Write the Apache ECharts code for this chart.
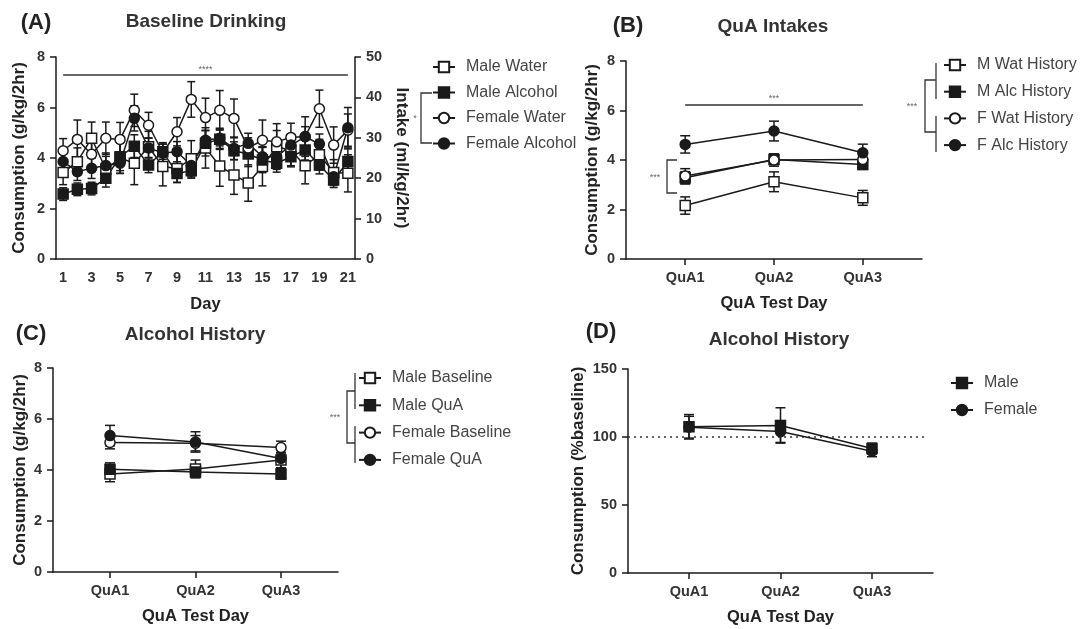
<!DOCTYPE html>
<html>
<head>
<meta charset="utf-8">
<script src="https://cdn.jsdelivr.net/npm/echarts@6/dist/echarts.min.js"></script>
<style>
html,body{margin:0;padding:0;background:#fff;}
#chart{width:1085px;height:629px;}
</style>
</head>
<body>
<div id="chart"></div>
<script>
// (A) baseline drinking, 21 days
var days = ['1','2','3','4','5','6','7','8','9','10','11','12','13','14','15','16','17','18','19','20','21'];
// water is read on the right axis (ml/kg/2hr), alcohol on the left (g/kg/2hr)
var maleWater      = [21.4,24.1,29.9,22.2,25.0,23.7,27.8,22.9,22.4,24.8,27.5,23.0,20.8,18.8,22.9,27.8,26.9,23.1,25.8,21.4,21.2];
var maleWaterErr   = [3.0,3.4,4.0,3.2,3.8,5.3,3.8,4.8,3.5,4.5,5.0,5.0,4.8,4.5,4.8,4.0,3.8,4.5,3.8,3.2,4.6];
var maleAlc        = [2.57,2.76,2.79,3.2,4.05,4.47,3.72,4.25,3.39,3.5,4.58,4.74,4.29,4.16,3.92,3.79,4.05,4.32,3.72,3.13,3.86];
var maleAlcErr     = [0.25,0.25,0.25,0.35,0.55,0.45,0.3,0.3,0.35,0.3,0.5,0.4,0.35,0.5,0.5,0.35,0.4,0.4,0.35,0.3,0.5];
var femaleWater    = [26.8,29.6,25.9,29.9,29.6,36.8,33.1,26.3,31.5,39.5,35.0,36.8,34.8,27.5,29.4,29.0,30.1,30.3,37.2,28.2,31.9];
var femaleWaterErr = [3.0,4.8,3.5,4.0,4.2,4.0,3.2,2.5,3.5,4.4,4.8,4.9,4.8,2.5,5.0,4.5,3.5,4.9,4.6,4.5,4.0];
var femaleAlc      = [3.86,3.46,3.59,3.7,3.79,5.57,4.4,4.2,4.25,3.7,4.7,4.78,4.38,4.58,4.05,4.05,4.51,4.84,4.55,3.26,5.2];
var femaleAlcErr   = [0.3,0.35,0.4,0.5,0.4,0.5,0.4,0.35,0.4,0.4,0.4,0.4,0.45,0.4,0.4,0.5,0.35,0.4,0.4,0.3,0.8];

// QuA test days (B, C, D)
var qDays = ['QuA1','QuA2','QuA3'];

// (B) QuA intakes
var mWatHist = [2.16,3.12,2.47], mWatHistErr = [0.35,0.4,0.3];
var mAlcHist = [3.28,4.02,3.82], mAlcHistErr = [0.25,0.2,0.2];
var fWatHist = [3.35,4.0,4.02],  fWatHistErr = [0.3,0.25,0.3];
var fAlcHist = [4.63,5.17,4.29], fAlcHistErr = [0.35,0.4,0.35];

// (C) alcohol history, baseline vs QuA
var maleBase = [3.84,4.04,4.39],  maleBaseErr = [0.3,0.35,0.3];
var maleQua  = [4.03,3.92,3.84],  maleQuaErr  = [0.25,0.2,0.2];
var femBase  = [5.08,5.05,4.88],  femBaseErr  = [0.25,0.3,0.25];
var femQua   = [5.35,5.1,4.45],   femQuaErr   = [0.4,0.4,0.4];

// (D) % of baseline
var malePct   = [107.5,108.5,91.5], malePctErr   = [9,13,4];
var femalePct = [107.2,104,89.5],   femalePctErr = [8,8,4];

var FONT = '"Liberation Sans", Arial, sans-serif';
var INK = '#1a1a1a';
var TICK_FS = 14.5, NAME_FS = 17, XNAME_FS = 16.5, LEG_FS = 16;

function pts(vals, cat){
  var out = [];
  for (var i = 0; i < vals.length; i++) out.push([cat ? i : i + 1, vals[i]]);
  return out;
}
function errPts(vals, errs, cat){
  var out = [];
  for (var i = 0; i < vals.length; i++) out.push([cat ? i : i + 1, vals[i], errs[i]]);
  return out;
}
function lineS(name, vals, cat, xi, yi, sym, open, size){
  return {
    name: name, type: 'line', xAxisIndex: xi, yAxisIndex: yi,
    data: pts(vals, cat), symbol: sym, symbolSize: size, showAllSymbol: true,
    z: 3,
    lineStyle: {color: INK, width: 1.5},
    itemStyle: {color: open ? '#fff' : INK, borderColor: INK, borderWidth: 1.5}
  };
}
function errS(vals, errs, cat, xi, yi, cap){
  return {
    type: 'custom', xAxisIndex: xi, yAxisIndex: yi, z: 2,
    data: errPts(vals, errs, cat),
    renderItem: function(params, api){
      var x = api.value(0), y = api.value(1), e = api.value(2);
      var hi = api.coord([x, y + e]), lo = api.coord([x, y - e]);
      var st = {stroke: INK, lineWidth: 1.5};
      return {type: 'group', children: [
        {type: 'line', shape: {x1: hi[0], y1: hi[1], x2: lo[0], y2: lo[1]}, style: st},
        {type: 'line', shape: {x1: hi[0] - cap, y1: hi[1], x2: hi[0] + cap, y2: hi[1]}, style: st},
        {type: 'line', shape: {x1: lo[0] - cap, y1: lo[1], x2: lo[0] + cap, y2: lo[1]}, style: st}
      ]};
    }
  };
}
function yAx(gi, max, step, name, gap, extra){
  var ax = {
    type: 'value', gridIndex: gi, min: 0, max: max, interval: step,
    name: name, nameLocation: 'middle', nameGap: gap,
    nameTextStyle: {fontFamily: FONT, fontSize: NAME_FS, fontWeight: 'bold', color: '#222'},
    splitLine: {show: false},
    axisLine: {show: true, lineStyle: {color: INK, width: 1.5}},
    axisTick: {show: true, length: 6, lineStyle: {color: INK, width: 1.5}},
    axisLabel: {fontFamily: FONT, fontSize: TICK_FS, fontWeight: 'bold', color: '#333', margin: 11}
  };
  for (var k in extra) ax[k] = extra[k];
  return ax;
}
function qAx(gi){
  return {
    type: 'value', gridIndex: gi, min: 1/3, max: 11/3,
    name: 'QuA Test Day', nameLocation: 'middle', nameGap: 36,
    nameTextStyle: {fontFamily: FONT, fontSize: XNAME_FS, fontWeight: 'bold', color: '#222'},
    splitLine: {show: false},
    axisLine: {show: true, onZero: false, lineStyle: {color: INK, width: 1.5}},
    axisTick: {show: true, length: 6, customValues: [1, 2, 3], lineStyle: {color: INK, width: 1.5}},
    axisLabel: {customValues: [1, 2, 3], margin: 11, fontFamily: FONT, fontSize: TICK_FS, fontWeight: 'bold', color: '#333',
      formatter: function(v){ return qDays[Math.round(v) - 1]; }}
  };
}
function legendAt(left, top, gap, names){
  return {
    orient: 'vertical', left: left, top: top, itemWidth: 22, itemHeight: 13, itemGap: gap,
    selectedMode: false, data: names,
    textStyle: {fontFamily: FONT, fontSize: LEG_FS, color: '#444', padding: [0, 0, 0, 6]}
  };
}
function txt(x, y, s, size, weight, align, color){
  return {type: 'text', x: x, y: y, style: {text: s, font: (weight || 'normal') + ' ' + size + 'px ' + FONT,
    fill: color || '#222', textAlign: align || 'center', textVerticalAlign: 'middle'}};
}
function poly(points){
  return {type: 'polyline', shape: {points: points}, style: {stroke: '#333', lineWidth: 1.3, fill: null}};
}

var chart = echarts.init(document.getElementById('chart'));
var option = {
  animation: false,
  backgroundColor: '#fff',
  grid: [
    {left: 56, top: 57, width: 299, height: 202},
    {left: 626, top: 61, width: 296, height: 198},
    {left: 53, top: 368, width: 285, height: 204},
    {left: 628, top: 369, width: 305, height: 204}
  ],
  xAxis: [
    {
      type: 'category', gridIndex: 0, data: days, boundaryGap: true,
      name: 'Day', nameLocation: 'middle', nameGap: 37,
      nameTextStyle: {fontFamily: FONT, fontSize: XNAME_FS, fontWeight: 'bold', color: '#222'},
      axisLine: {lineStyle: {color: INK, width: 1.5}},
      axisTick: {interval: 0, alignWithLabel: true, length: 8, lineStyle: {color: INK, width: 2}},
      axisLabel: {interval: 1, margin: 11, fontFamily: FONT, fontSize: TICK_FS, fontWeight: 'bold', color: '#333'}
    },
    qAx(1), qAx(2), qAx(3)
  ],
  yAxis: [
    yAx(0, 8, 2, 'Consumption (g/kg/2hr)', 28.5, {}),
    yAx(0, 50, 10, 'Intake (ml/kg/2hr)', 38.5, {position: 'right', nameRotate: -90}),
    yAx(1, 8, 2, 'Consumption (g/kg/2hr)', 25.5, {}),
    yAx(2, 8, 2, 'Consumption (g/kg/2hr)', 24.5, {}),
    yAx(3, 150, 50, 'Consumption (%baseline)', 41.5, {})
  ],
  legend: [
    legendAt(427, 54, 9.5, ['Male Water', 'Male Alcohol', 'Female Water', 'Female Alcohol']),
    legendAt(938, 52, 10.7, ['M Wat History', 'M Alc History', 'F Wat History', 'F Alc History']),
    legendAt(353, 365, 11.3, ['Male Baseline', 'Male QuA', 'Female Baseline', 'Female QuA']),
    legendAt(945, 370, 11, ['Male', 'Female'])
  ],
  series: [
    // A
    errS(maleWater, maleWaterErr, true, 0, 1, 4),
    errS(maleAlc, maleAlcErr, true, 0, 0, 4),
    errS(femaleWater, femaleWaterErr, true, 0, 1, 4),
    errS(femaleAlc, femaleAlcErr, true, 0, 0, 4),
    lineS('Male Water', maleWater, true, 0, 1, 'rect', true, 10),
    (function(){
      var s = lineS('Male Alcohol', maleAlc, true, 0, 0, 'rect', false, 10);
      s.markLine = {
        silent: true, symbol: 'none',
        lineStyle: {color: '#333', width: 1.5, type: 'solid'},
        label: {show: true, position: 'insideMiddleTop', formatter: '****', distance: 1,
          fontFamily: FONT, fontSize: 9, color: '#666'},
        data: [[{coord: [0, 7.3]}, {coord: [20, 7.3]}]]
      };
      return s;
    })(),
    lineS('Female Water', femaleWater, true, 0, 1, 'circle', true, 10),
    lineS('Female Alcohol', femaleAlc, true, 0, 0, 'circle', false, 10),
    // B
    errS(mWatHist, mWatHistErr, false, 1, 2, 5),
    errS(mAlcHist, mAlcHistErr, false, 1, 2, 5),
    errS(fWatHist, fWatHistErr, false, 1, 2, 5),
    errS(fAlcHist, fAlcHistErr, false, 1, 2, 5),
    (function(){
      var s = lineS('M Wat History', mWatHist, false, 1, 2, 'rect', true, 10);
      s.markLine = {
        silent: true, symbol: 'none',
        lineStyle: {color: '#333', width: 1.5, type: 'solid'},
        label: {show: true, position: 'insideMiddleTop', formatter: '***', distance: 1,
          fontFamily: FONT, fontSize: 9, color: '#666'},
        data: [[{coord: [1, 6.25]}, {coord: [3, 6.25]}]]
      };
      return s;
    })(),
    lineS('M Alc History', mAlcHist, false, 1, 2, 'rect', false, 10),
    lineS('F Wat History', fWatHist, false, 1, 2, 'circle', true, 10),
    lineS('F Alc History', fAlcHist, false, 1, 2, 'circle', false, 10),
    // C
    errS(maleBase, maleBaseErr, false, 2, 3, 5),
    errS(maleQua, maleQuaErr, false, 2, 3, 5),
    errS(femBase, femBaseErr, false, 2, 3, 5),
    errS(femQua, femQuaErr, false, 2, 3, 5),
    lineS('Male Baseline', maleBase, false, 2, 3, 'rect', true, 10),
    lineS('Male QuA', maleQua, false, 2, 3, 'rect', false, 10),
    lineS('Female Baseline', femBase, false, 2, 3, 'circle', true, 10),
    lineS('Female QuA', femQua, false, 2, 3, 'circle', false, 10),
    // D
    errS(malePct, malePctErr, false, 3, 4, 5),
    errS(femalePct, femalePctErr, false, 3, 4, 5),
    (function(){
      var s = lineS('Male', malePct, false, 3, 4, 'rect', false, 10);
      s.markLine = {
        silent: true, symbol: 'none', z: 1,
        lineStyle: {color: '#333', width: 1.6, type: [2, 4]},
        label: {show: false},
        data: [[{coord: [1/3, 100]}, {coord: [3.6, 100]}]]
      };
      return s;
    })(),
    lineS('Female', femalePct, false, 3, 4, 'circle', false, 10)
  ],
  graphic: [
    txt(36, 23, '(A)', 22, 'bold'),
    txt(206, 22, 'Baseline Drinking', 19, 'bold', 'center', '#333'),
    txt(628, 26, '(B)', 22, 'bold'),
    txt(773, 27, 'QuA Intakes', 19, 'bold', 'center', '#333'),
    txt(31, 334, '(C)', 22, 'bold'),
    txt(195, 335, 'Alcohol History', 19, 'bold', 'center', '#333'),
    txt(601, 332, '(D)', 22, 'bold'),
    txt(779, 340, 'Alcohol History', 19, 'bold', 'center', '#333'),
    // A legend bracket
    poly([[432, 93], [421, 93], [421, 143], [432, 143]]),
    txt(415, 119, '*', 9, 'normal', 'center', '#666'),
    // B legend bracket
    poly([[936, 63], [936, 99]]),
    poly([[936, 116], [936, 152]]),
    poly([[936, 80], [925, 80], [925, 132], [936, 132]]),
    txt(912, 107, '***', 9, 'normal', 'center', '#666'),
    // B left bracket
    poly([[677, 160], [667, 160], [667, 193], [677, 193]]),
    txt(655, 178, '***', 9, 'normal', 'center', '#666'),
    // C legend bracket
    poly([[355, 373], [355, 409]]),
    poly([[355, 426], [355, 463]]),
    poly([[355, 391], [347, 391], [347, 443], [355, 443]]),
    txt(335, 418, '***', 9, 'normal', 'center', '#666')
  ]
};
chart.setOption(option);
</script>
</body>
</html>
